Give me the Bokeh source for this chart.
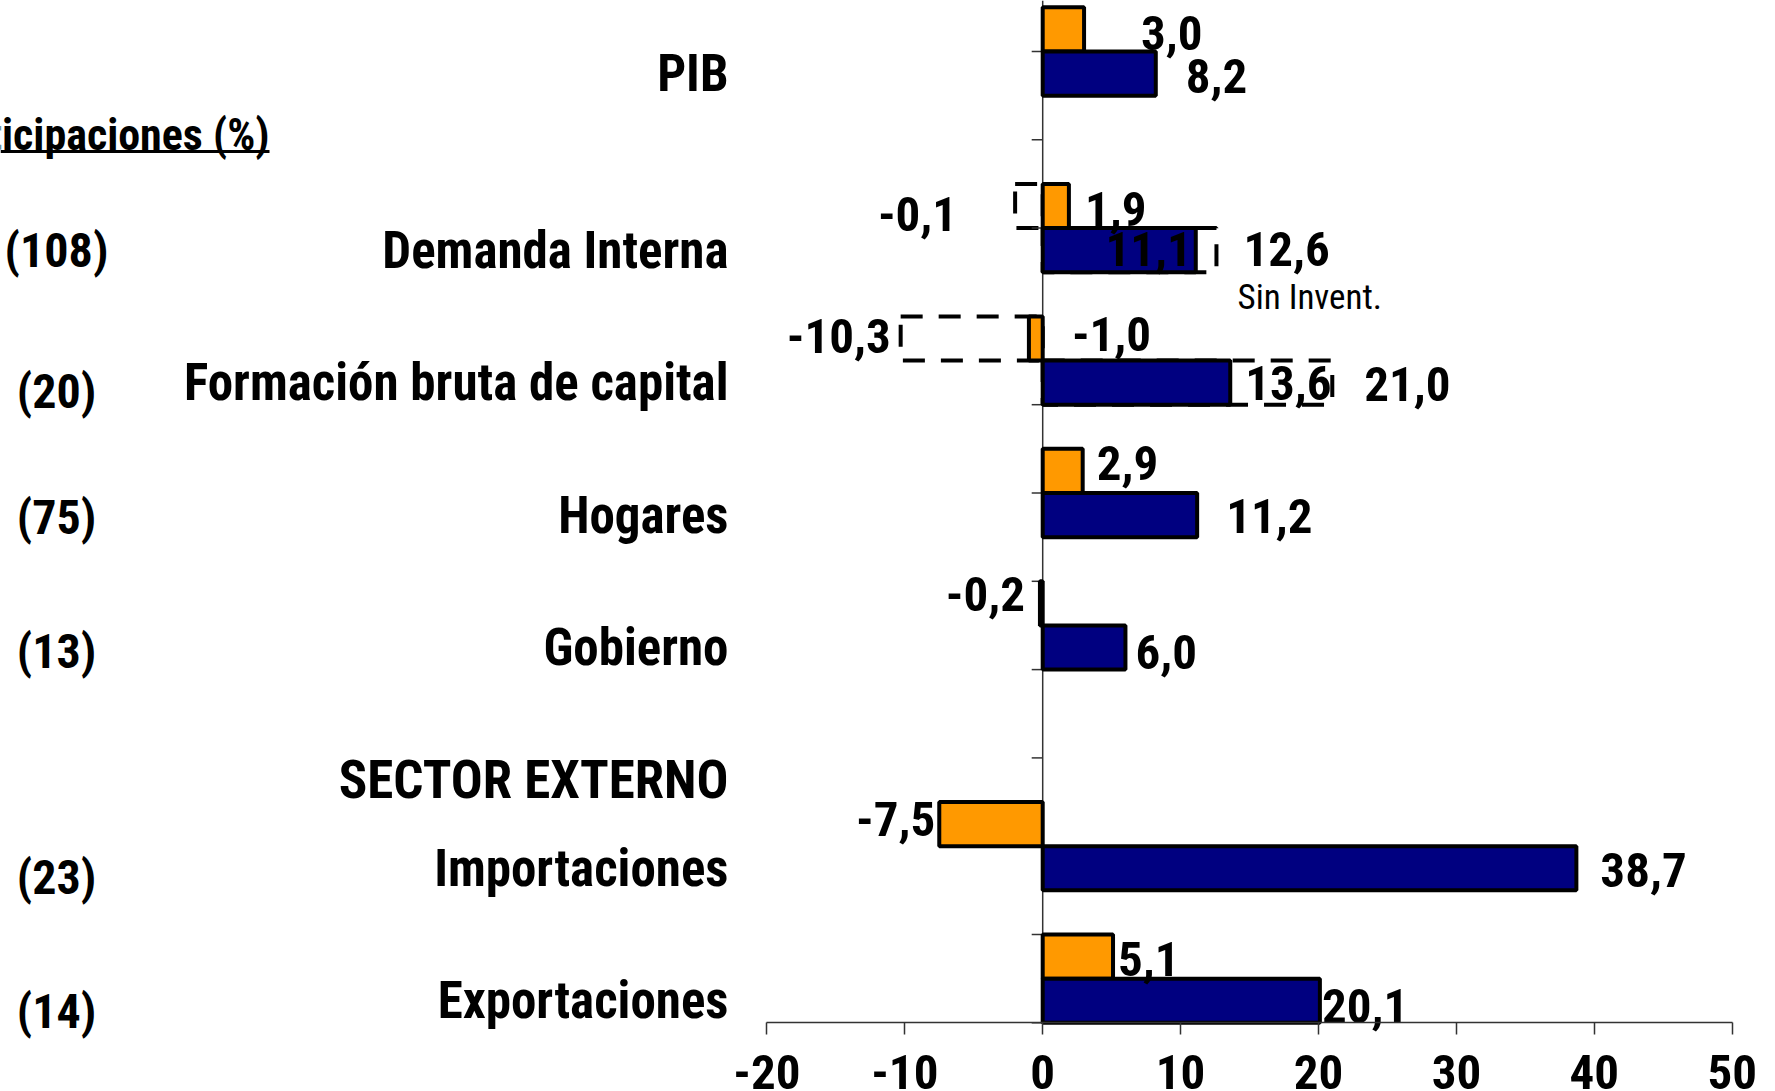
from bokeh.plotting import figure
from bokeh.models import Range1d, LinearAxis, FixedTicker, ColumnDataSource
from bokeh.core.properties import value
from bokeh.embed import file_html
from bokeh.resources import INLINE

# ---------------- data ----------------
categories = ["PIB", "Demanda Interna", "Formación bruta de capital",
              "Hogares", "Gobierno", "Importaciones", "Exportaciones"]
serie_naranja = [3.0, 1.9, -1.0, 2.9, -0.2, -7.5, 5.1]
serie_azul = [8.2, 11.1, 13.6, 11.2, 6.0, 38.7, 20.1]
# dashed "sin inventarios" bars
sin_inv_categories = ["Demanda Interna", "Formación bruta de capital"]
sin_inv_naranja = [-2.0, -10.3]
sin_inv_naranja_text = ["-0,1", "-10,3"]
sin_inv_azul = [12.6, 21.0]
participaciones = ["", "(108)", "(20)", "(75)", "(13)", "(23)", "(14)"]
section_header = "SECTOR EXTERNO"
participaciones_title = "Participaciones (%)"
sin_inv_note = "Sin Invent."
x_ticks = [-20, -10, 0, 10, 20, 30, 40, 50]
x_tick_labels = ["-20", "-10", "0", "10", "20", "30", "40", "50"]


def fmt(v):
    return f"{v:.1f}".replace(".", ",")


# ---------------- layout ----------------
FONT = "Roboto Condensed"
BIG = "49px"
CAT = "51px"
W, H = 1775, 1091
X0_FULL = 1042.2   # window px of value 0
PXU = 13.79        # px per value unit
Y0_FULL = 51.0     # window px of row 0
PXK = 88.3         # px per row unit


def xd(px):
    return (px - X0_FULL) / PXU


def yd(py):
    return (py - Y0_FULL) / PXK


ROW = {"PIB": 0, "Demanda Interna": 2, "Formación bruta de capital": 3.5,
       "Hogares": 5, "Gobierno": 6.5, "Importaciones": 9, "Exportaciones": 10.5}
HEADER_ROW = 8.25
ORANGE_ALIGN = ["left", "left", "left", "left", "right", "right", "left"]
ORANGE_DX = [57, 16, 43, 14, -15, -4, 5]
ORANGE_DY = [4, 3, -4, -8, -9, -5, 2]
NAVY_ALIGN = ["left", "right", "left", "left", "left", "left", "left"]
NAVY_DX = [30, -4, 15, 29, 10, 24, 2]
NAVY_DY = [2, -1, 0, 1, 4, 2, 5]
SIN_O_DX, SIN_O_DY = [-58, -10], [8, -2]
SIN_A_DX, SIN_A_DY = [27, 32], [-1, 1]
SHARE_DY = [0, 0, 9, 2, 4, 9, 11]
AXIS_Y = 1022

ORANGE = "#FF9900"
NAVY = "#000080"

p = figure(width=W, height=H,
           x_range=Range1d(xd(0), xd(W)),
           y_range=Range1d(yd(H), yd(0)),
           x_axis_type=None, y_axis_type=None,
           output_backend="svg", toolbar_location=None,
           min_border=0, min_border_left=0, min_border_right=0,
           min_border_top=0, min_border_bottom=0)
p.outline_line_color = None
p.background_fill_color = "white"
p.border_fill_color = "white"

rows = [ROW[c] for c in categories]

# dashed "sin inventarios" boxes (behind)
sin_rows = [ROW[c] for c in sin_inv_categories]
p.hbar(y=[r - 0.25 for r in sin_rows], left=0, right=sin_inv_naranja, height=0.5,
       fill_color=None, line_color="black", line_width=4, line_dash="22 16")
p.hbar(y=[r + 0.25 for r in sin_rows], left=0, right=sin_inv_azul, height=0.5,
       fill_color=None, line_color="black", line_width=4, line_dash="22 16")

# vertical category axis at value 0 with ticks between rows
p.segment(x0=[0], y0=[yd(0)], x1=[0], y1=[yd(AXIS_Y)], line_color="#333333", line_width=1.5)
ytick = list(range(12))
p.segment(x0=[0] * len(ytick), y0=ytick, x1=[xd(X0_FULL - 11)] * len(ytick), y1=ytick,
          line_color="#333333", line_width=1.5)

# solid bars
src_o = ColumnDataSource(dict(y=[r - 0.25 for r in rows], v=serie_naranja))
src_a = ColumnDataSource(dict(y=[r + 0.25 for r in rows], v=serie_azul))
p.hbar(y="y", left=0, right="v", height=0.5, fill_color=ORANGE,
       line_color="black", line_width=4, source=src_o)
p.hbar(y="y", left=0, right="v", height=0.5, fill_color=NAVY,
       line_color="black", line_width=4, source=src_a)

# value axis
xaxis = LinearAxis(ticker=FixedTicker(ticks=x_ticks), bounds=(-20, 50),
                   fixed_location=yd(AXIS_Y))
xaxis.major_label_overrides = dict(zip(x_ticks, x_tick_labels))
xaxis.axis_line_color = "#333333"
xaxis.axis_line_width = 1.5
xaxis.major_tick_line_color = "#333333"
xaxis.major_tick_line_width = 1.5
xaxis.major_tick_out = 12
xaxis.major_tick_in = 0
xaxis.minor_tick_out = 0
xaxis.minor_tick_in = 0
xaxis.major_label_text_font = FONT
xaxis.major_label_text_font_size = BIG
xaxis.major_label_text_font_style = "bold"
xaxis.major_label_text_color = "black"
xaxis.major_label_standoff = 20
p.add_layout(xaxis, "below")


def add_text(xs, ys, texts, align, dx, size=BIG, style="bold", font=FONT):
    if not xs:
        return
    p.text(x=xs, y=ys, text=texts, x_offset=dx, text_align=align,
           text_baseline="middle", text_font=value(font),
           text_font_size=size, text_font_style=style, text_color="black")


def add_labels(vals, texts, yrows, aligns, dxs, dys):
    for al in ("left", "right"):
        idx = [i for i, a in enumerate(aligns) if a == al]
        add_text([vals[i] for i in idx],
                 [yrows[i] + dys[i] / PXK for i in idx],
                 [texts[i] for i in idx], al, [dxs[i] for i in idx])


add_labels(serie_naranja, [fmt(v) for v in serie_naranja],
           [r - 0.25 for r in rows], ORANGE_ALIGN, ORANGE_DX, ORANGE_DY)
add_labels(serie_azul, [fmt(v) for v in serie_azul],
           [r + 0.25 for r in rows], NAVY_ALIGN, NAVY_DX, NAVY_DY)
add_labels(sin_inv_naranja, sin_inv_naranja_text, [r - 0.25 for r in sin_rows],
           ["right", "right"], SIN_O_DX, SIN_O_DY)
add_labels(sin_inv_azul, [fmt(v) for v in sin_inv_azul], [r + 0.25 for r in sin_rows],
           ["left", "left"], SIN_A_DX, SIN_A_DY)

# category labels
cat_x = xd(728)
add_text([cat_x] * len(categories), [r + 0.25 for r in rows], categories, "right", 0, size=CAT)
add_text([cat_x], [HEADER_ROW], [section_header], "right", 0, size="53px")

# shares
sh_idx = [i for i, s in enumerate(participaciones) if s]
add_text([xd(56)] * len(sh_idx),
         [rows[i] + 0.25 + SHARE_DY[i] / PXK for i in sh_idx],
         [participaciones[i] for i in sh_idx], "center", 0, size="48px")

# title (cut at left edge) with underline
add_text([xd(269)], [yd(134)], [participaciones_title], "right", 0, size="44px")
p.segment(x0=[xd(0)], y0=[yd(151)], x1=[xd(269)], y1=[yd(151)],
          line_color="black", line_width=3)

# note
add_text([xd(1237)], [yd(297)], [sin_inv_note], "left", 0, size="35px", style="normal")

open("out.html", "w").write(file_html(p, INLINE))
